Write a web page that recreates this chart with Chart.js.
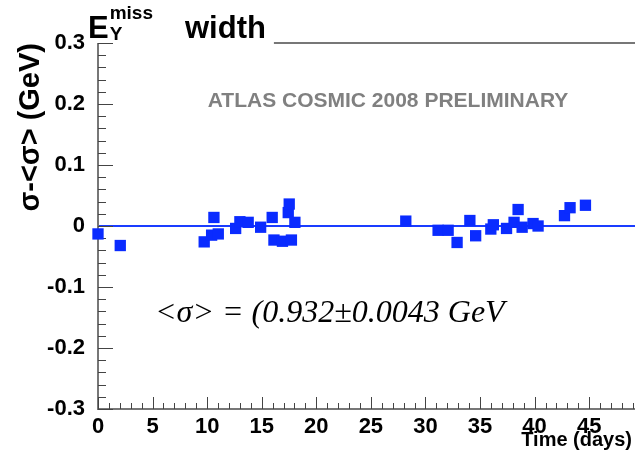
<!DOCTYPE html>
<html>
<head>
<meta charset="utf-8">
<script src="https://cdn.jsdelivr.net/npm/chart.js@4.4.1/dist/chart.umd.min.js"></script>
<style>
  html, body { margin: 0; padding: 0; background: #fff; }
  canvas { display: block; }
</style>
</head>
<body>
<canvas id="myChart" width="635" height="453"></canvas>
<script>
// run days and width shift sigma-<sigma> (GeV)
const days = [0.0, 2.04, 9.73, 10.41, 10.62, 11.02, 12.61, 13.0, 13.76, 14.9, 15.96, 16.12,
  16.9, 17.43, 17.52, 17.72, 18.04, 28.2, 31.16, 32.08, 32.9, 34.07, 34.6, 35.99, 36.22,
  37.43, 38.12, 38.49, 38.86, 39.86, 40.32, 42.74, 43.25, 44.66];
const widthShift = [-0.013, -0.032, -0.026, -0.015, 0.014, -0.013, -0.004, 0.007, 0.006, -0.002, 0.014, -0.023,
  -0.025, 0.022, 0.036, -0.023, 0.006, 0.008, -0.007, -0.007, -0.027, 0.009, -0.016, -0.005, 0.002,
  -0.004, 0.006, 0.027, -0.002, 0.004, 0.000, 0.017, 0.030, 0.034];

const xTickValues = [0, 5, 10, 15, 20, 25, 30, 35, 40, 45];
const xTickLabels = ['0', '5', '10', '15', '20', '25', '30', '35', '40', '45'];
const yTickValues = [-0.3, -0.2, -0.1, 0, 0.1, 0.2, 0.3];
const yTickLabels = ['-0.3', '-0.2', '-0.1', '0', '0.1', '0.2', '0.3'];

const meanText = '<σ> = (0.932±0.0043 GeV';
const stampText = 'ATLAS COSMIC 2008 PRELIMINARY';

const SANS = "'Liberation Sans', Arial, Helvetica, sans-serif";
const SERIF = "'Liberation Serif', 'Times New Roman', serif";
const BLUE = '#0a2bff';

const points = days.map((d, i) => ({ x: d, y: widthShift[i] }));

// axes with inward ticks, zero line, title and labels
const rootFrame = {
  id: 'rootFrame',
  beforeDatasetsDraw(chart) {
    const { ctx, chartArea: { left, right, top, bottom }, scales: { x, y } } = chart;
    ctx.save();

    // zero reference line
    const y0 = y.getPixelForValue(0);
    ctx.strokeStyle = '#1a3cff';
    ctx.lineWidth = 2;
    ctx.beginPath();
    ctx.moveTo(left, y0);
    ctx.lineTo(right, y0);
    ctx.stroke();

    // axis lines
    ctx.strokeStyle = '#777';
    ctx.lineWidth = 2;
    ctx.beginPath();
    ctx.moveTo(left, top);
    ctx.lineTo(left, bottom);
    ctx.lineTo(right, bottom);
    ctx.stroke();

    // ticks
    ctx.strokeStyle = '#444';
    ctx.lineWidth = 1;
    ctx.beginPath();
    for (let k = -15; k <= 15; k++) {
      const py = Math.round(y.getPixelForValue(k * 0.02)) + 0.5;
      const len = k % 5 === 0 ? 15 : 8;
      ctx.moveTo(left, py);
      ctx.lineTo(left + len, py);
    }
    for (let d = 0; d <= x.max; d++) {
      const px = Math.round(x.getPixelForValue(d)) + 0.5;
      const len = d % 5 === 0 ? 12 : 6;
      ctx.moveTo(px, bottom);
      ctx.lineTo(px, bottom - len);
    }
    ctx.stroke();

    // title E_Y^miss width
    ctx.fillStyle = '#000';
    ctx.textBaseline = 'alphabetic';
    ctx.textAlign = 'left';
    let tx = 88;
    ctx.font = `bold 31px ${SANS}`;
    ctx.fillText('E', tx, 38);
    tx += ctx.measureText('E').width + 1;
    ctx.font = `bold 19px ${SANS}`;
    ctx.fillText('miss', tx, 19);
    ctx.fillText('Y', tx, 40);
    tx += ctx.measureText('miss').width + 32;
    ctx.font = `bold 31px ${SANS}`;
    ctx.fillText('width', tx, 38);
    tx += ctx.measureText('width').width + 8;

    // top frame line right of the title box
    ctx.strokeStyle = '#777';
    ctx.lineWidth = 2;
    ctx.beginPath();
    ctx.moveTo(tx, top);
    ctx.lineTo(right, top);
    ctx.stroke();

    // y axis title
    ctx.save();
    ctx.translate(31, top);
    ctx.rotate(-Math.PI / 2);
    ctx.font = `bold 29px ${SANS}`;
    ctx.textAlign = 'right';
    ctx.textBaseline = 'middle';
    ctx.fillText('σ-<σ> (GeV)', 0, 0);
    ctx.restore();

    // x axis title
    ctx.font = `bold 20px ${SANS}`;
    ctx.textAlign = 'right';
    ctx.fillText('Time (days)', 632, 446);

    // preliminary stamp
    ctx.font = `bold 21px ${SANS}`;
    ctx.fillStyle = '#808080';
    ctx.textAlign = 'center';
    ctx.fillText(stampText, 388, 107);

    // mean width
    ctx.font = `italic 32px ${SERIF}`;
    ctx.fillStyle = '#000';
    ctx.textAlign = 'left';
    ctx.fillText(meanText, 155, 322);

    ctx.restore();
  }
};

const config = {
  type: 'scatter',
  data: {
    datasets: [{
      data: points,
      pointStyle: 'rect',
      pointRadius: 8,
      pointBorderWidth: 0,
      pointBackgroundColor: BLUE,
      pointBorderColor: BLUE,
      showLine: false,
      clip: false
    }]
  },
  options: {
    responsive: false,
    animation: false,
    layout: { autoPadding: false, padding: { top: 43, left: 0, right: 0, bottom: 0 } },
    plugins: {
      legend: { display: false },
      tooltip: { enabled: false }
    },
    scales: {
      x: {
        type: 'linear',
        min: 0,
        max: 49.2,
        afterBuildTicks: (scale) => { scale.ticks = xTickValues.map(v => ({ value: v })); },
        afterFit: (scale) => { scale.height = 44; scale.paddingLeft = 0; scale.paddingRight = 0; },
        grid: { display: false, drawTicks: false },
        border: { display: false },
        ticks: {
          padding: 5,
          autoSkip: false,
          maxRotation: 0,
          color: '#000',
          font: { family: SANS, size: 22, weight: 'bold' },
          callback: (v, i) => xTickLabels[i]
        }
      },
      y: {
        type: 'linear',
        min: -0.3,
        max: 0.3,
        afterBuildTicks: (scale) => { scale.ticks = yTickValues.map(v => ({ value: v })); },
        afterFit: (scale) => { scale.width = 98; scale.paddingTop = 0; scale.paddingBottom = 0; },
        grid: { display: false, drawTicks: false },
        border: { display: false },
        ticks: {
          padding: 13,
          autoSkip: false,
          color: '#000',
          font: { family: SANS, size: 22, weight: 'bold' },
          callback: (v, i) => yTickLabels[i]
        }
      }
    }
  },
  plugins: [rootFrame]
};

const myChart = new Chart(document.getElementById('myChart'), config);
</script>
</body>
</html>
